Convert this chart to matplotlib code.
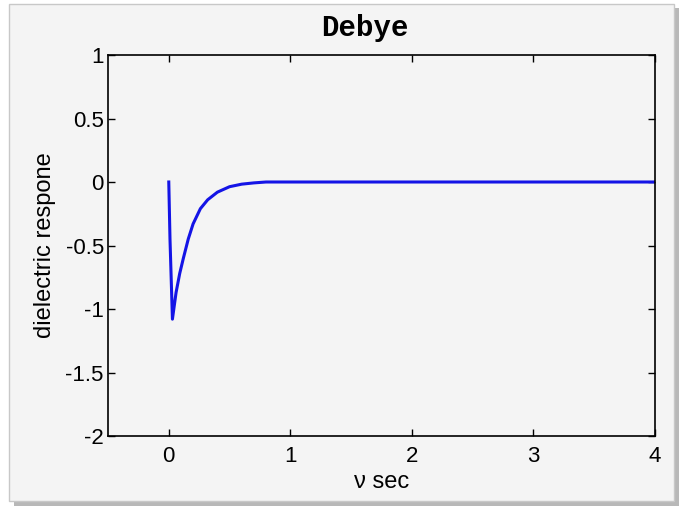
import matplotlib
matplotlib.use("Agg")
from matplotlib import pyplot as plt
from matplotlib.patches import Rectangle

plt.rcParams['font.family'] = ['Liberation Sans', 'DejaVu Sans']

# values
t = [0, 0.01, 0.03, 0.06, 0.09, 0.12, 0.16, 0.20, 0.26, 0.32, 0.40,
     0.50, 0.60, 0.70, 0.80, 1.0, 2.0, 3.0, 4.0]
resp = [0, -0.45, -1.08, -0.87, -0.72, -0.60, -0.45, -0.33, -0.21, -0.14,
        -0.08, -0.037, -0.017, -0.007, 0, 0, 0, 0, 0]

xticks = [0, 1, 2, 3, 4]
yticks = [-2, -1.5, -1, -0.5, 0, 0.5, 1]
yticklabels = ['-2', '-1.5', '-1', '-0.5', '0', '0.5', '1']

fig = plt.figure(figsize=(6.83, 5.11), dpi=100, facecolor='white')

# gray window panel with a shadow
W, H = 683.0, 511.0
fig.patches.append(Rectangle((14 / W, 1 - 506 / H), 665 / W, 498 / H,
                             transform=fig.transFigure, facecolor='#b8b8b8',
                             edgecolor='none', zorder=-3))
fig.patches.append(Rectangle((9 / W, 1 - 501 / H), 665 / W, 497 / H,
                             transform=fig.transFigure, facecolor='#f4f4f4',
                             edgecolor='#c8c8c8', linewidth=1, zorder=-2))

ax = fig.add_axes([108 / W, 1 - 436 / H, 547 / W, 381 / H])
ax.set_facecolor('#f4f4f4')
ax.plot(t, resp, color='#1414e6', linewidth=2.2)

ax.set_xlim(-0.5, 4)
ax.set_ylim(-2, 1)
ax.set_xticks(xticks)
ax.set_yticks(yticks)
ax.set_yticklabels(yticklabels)
ax.tick_params(direction='in', length=5, width=1, top=True, right=True,
               labelsize=16)
ax.tick_params(axis='y', pad=3)
ax.tick_params(axis='x', pad=7)
for s in ax.spines.values():
    s.set_linewidth(1.2)

ax.set_title('Debye', family='Liberation Mono', fontweight='bold',
             fontsize=21, x=0.47, pad=14)
ax.set_xlabel('ν sec', fontsize=17, labelpad=3)
ax.set_ylabel('dielectric respone', fontsize=17, labelpad=7)

fig.savefig('out.png', dpi=100, facecolor='white')
